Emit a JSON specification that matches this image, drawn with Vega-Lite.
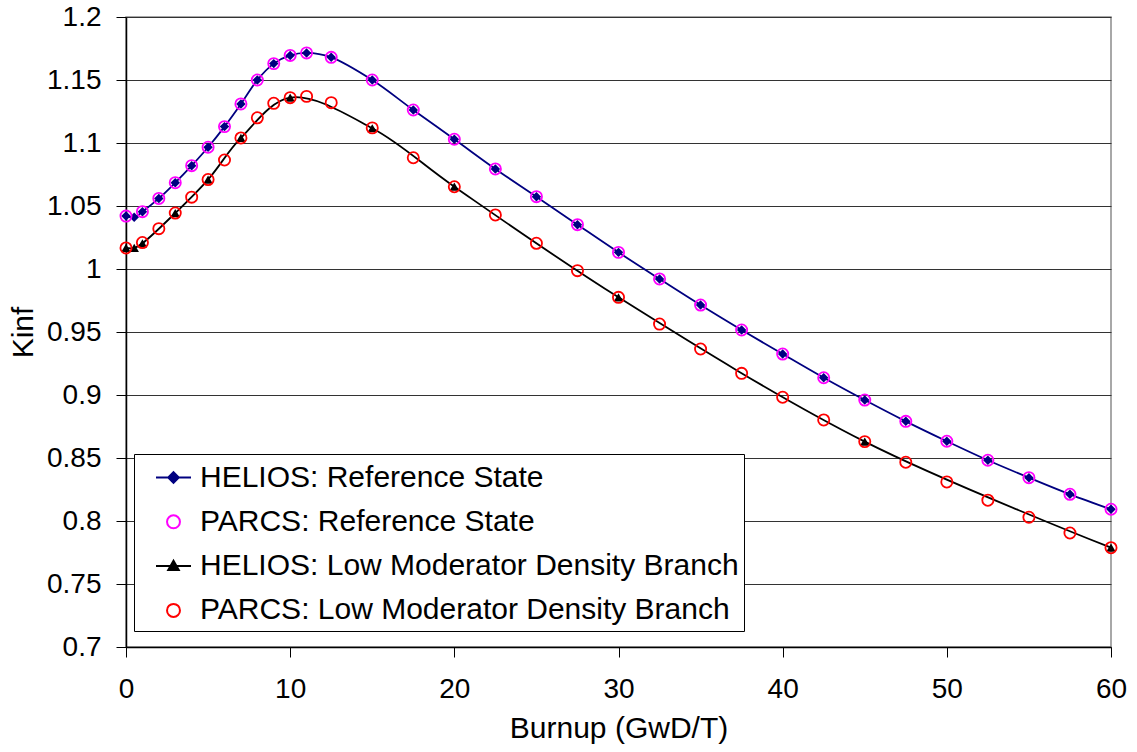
{
  "$schema": "https://vega.github.io/schema/vega-lite/v6.json",
  "width": 985,
  "height": 630,
  "autosize": {"type": "none"},
  "padding": {"left": 126, "top": 17, "right": 26, "bottom": 105},
  "background": "white",
  "config": {
    "view": {"stroke": "#8c8c8c", "strokeWidth": 1.5},
    "font": "Liberation Sans"
  },
  "data": {
    "values": [
      {"s": "HELIOS: Reference State", "x": 0, "y": 1.042},
      {"s": "HELIOS: Reference State", "x": 0.5, "y": 1.041},
      {"s": "HELIOS: Reference State", "x": 1, "y": 1.0455},
      {"s": "HELIOS: Reference State", "x": 2, "y": 1.056},
      {"s": "HELIOS: Reference State", "x": 3, "y": 1.0685},
      {"s": "HELIOS: Reference State", "x": 4, "y": 1.082},
      {"s": "HELIOS: Reference State", "x": 5, "y": 1.0966},
      {"s": "HELIOS: Reference State", "x": 6, "y": 1.113},
      {"s": "HELIOS: Reference State", "x": 7, "y": 1.131},
      {"s": "HELIOS: Reference State", "x": 8, "y": 1.15},
      {"s": "HELIOS: Reference State", "x": 9, "y": 1.163},
      {"s": "HELIOS: Reference State", "x": 10, "y": 1.1695},
      {"s": "HELIOS: Reference State", "x": 11, "y": 1.1715},
      {"s": "HELIOS: Reference State", "x": 12.5, "y": 1.168},
      {"s": "HELIOS: Reference State", "x": 15, "y": 1.15},
      {"s": "HELIOS: Reference State", "x": 17.5, "y": 1.1262},
      {"s": "HELIOS: Reference State", "x": 20, "y": 1.103},
      {"s": "HELIOS: Reference State", "x": 22.5, "y": 1.0794},
      {"s": "HELIOS: Reference State", "x": 25, "y": 1.0574},
      {"s": "HELIOS: Reference State", "x": 27.5, "y": 1.0352},
      {"s": "HELIOS: Reference State", "x": 30, "y": 1.0132},
      {"s": "HELIOS: Reference State", "x": 32.5, "y": 0.9921},
      {"s": "HELIOS: Reference State", "x": 35, "y": 0.9714},
      {"s": "HELIOS: Reference State", "x": 37.5, "y": 0.9516},
      {"s": "HELIOS: Reference State", "x": 40, "y": 0.9325},
      {"s": "HELIOS: Reference State", "x": 42.5, "y": 0.9137},
      {"s": "HELIOS: Reference State", "x": 45, "y": 0.896},
      {"s": "HELIOS: Reference State", "x": 47.5, "y": 0.8791},
      {"s": "HELIOS: Reference State", "x": 50, "y": 0.8633},
      {"s": "HELIOS: Reference State", "x": 52.5, "y": 0.8482},
      {"s": "HELIOS: Reference State", "x": 55, "y": 0.8344},
      {"s": "HELIOS: Reference State", "x": 57.5, "y": 0.8212},
      {"s": "HELIOS: Reference State", "x": 60, "y": 0.8093},
      {"s": "PARCS: Reference State", "x": 0, "y": 1.042},
      {"s": "PARCS: Reference State", "x": 1, "y": 1.0455},
      {"s": "PARCS: Reference State", "x": 2, "y": 1.056},
      {"s": "PARCS: Reference State", "x": 3, "y": 1.0685},
      {"s": "PARCS: Reference State", "x": 4, "y": 1.082},
      {"s": "PARCS: Reference State", "x": 5, "y": 1.0966},
      {"s": "PARCS: Reference State", "x": 6, "y": 1.113},
      {"s": "PARCS: Reference State", "x": 7, "y": 1.131},
      {"s": "PARCS: Reference State", "x": 8, "y": 1.15},
      {"s": "PARCS: Reference State", "x": 9, "y": 1.163},
      {"s": "PARCS: Reference State", "x": 10, "y": 1.1695},
      {"s": "PARCS: Reference State", "x": 11, "y": 1.1715},
      {"s": "PARCS: Reference State", "x": 12.5, "y": 1.168},
      {"s": "PARCS: Reference State", "x": 15, "y": 1.15},
      {"s": "PARCS: Reference State", "x": 17.5, "y": 1.1262},
      {"s": "PARCS: Reference State", "x": 20, "y": 1.103},
      {"s": "PARCS: Reference State", "x": 22.5, "y": 1.0794},
      {"s": "PARCS: Reference State", "x": 25, "y": 1.0574},
      {"s": "PARCS: Reference State", "x": 27.5, "y": 1.0352},
      {"s": "PARCS: Reference State", "x": 30, "y": 1.0132},
      {"s": "PARCS: Reference State", "x": 32.5, "y": 0.9921},
      {"s": "PARCS: Reference State", "x": 35, "y": 0.9714},
      {"s": "PARCS: Reference State", "x": 37.5, "y": 0.9516},
      {"s": "PARCS: Reference State", "x": 40, "y": 0.9325},
      {"s": "PARCS: Reference State", "x": 42.5, "y": 0.9137},
      {"s": "PARCS: Reference State", "x": 45, "y": 0.896},
      {"s": "PARCS: Reference State", "x": 47.5, "y": 0.8791},
      {"s": "PARCS: Reference State", "x": 50, "y": 0.8633},
      {"s": "PARCS: Reference State", "x": 52.5, "y": 0.8482},
      {"s": "PARCS: Reference State", "x": 55, "y": 0.8344},
      {"s": "PARCS: Reference State", "x": 57.5, "y": 0.8212},
      {"s": "PARCS: Reference State", "x": 60, "y": 0.8093},
      {"s": "HELIOS: Low Moderator Density Branch", "x": 0, "y": 1.0167},
      {"s": "HELIOS: Low Moderator Density Branch", "x": 0.5, "y": 1.0167},
      {"s": "HELIOS: Low Moderator Density Branch", "x": 1, "y": 1.0204},
      {"s": "HELIOS: Low Moderator Density Branch", "x": 3, "y": 1.0444},
      {"s": "HELIOS: Low Moderator Density Branch", "x": 5, "y": 1.071},
      {"s": "HELIOS: Low Moderator Density Branch", "x": 7, "y": 1.104},
      {"s": "HELIOS: Low Moderator Density Branch", "x": 10, "y": 1.136},
      {"s": "HELIOS: Low Moderator Density Branch", "x": 15, "y": 1.1117},
      {"s": "HELIOS: Low Moderator Density Branch", "x": 20, "y": 1.0653},
      {"s": "HELIOS: Low Moderator Density Branch", "x": 30, "y": 0.9775},
      {"s": "HELIOS: Low Moderator Density Branch", "x": 45, "y": 0.863},
      {"s": "HELIOS: Low Moderator Density Branch", "x": 60, "y": 0.7788},
      {"s": "PARCS: Low Moderator Density Branch", "x": 0, "y": 1.0167},
      {"s": "PARCS: Low Moderator Density Branch", "x": 1, "y": 1.021},
      {"s": "PARCS: Low Moderator Density Branch", "x": 2, "y": 1.032},
      {"s": "PARCS: Low Moderator Density Branch", "x": 3, "y": 1.0444},
      {"s": "PARCS: Low Moderator Density Branch", "x": 4, "y": 1.057},
      {"s": "PARCS: Low Moderator Density Branch", "x": 5, "y": 1.071},
      {"s": "PARCS: Low Moderator Density Branch", "x": 6, "y": 1.0865},
      {"s": "PARCS: Low Moderator Density Branch", "x": 7, "y": 1.104},
      {"s": "PARCS: Low Moderator Density Branch", "x": 8, "y": 1.12},
      {"s": "PARCS: Low Moderator Density Branch", "x": 9, "y": 1.1315},
      {"s": "PARCS: Low Moderator Density Branch", "x": 10, "y": 1.136},
      {"s": "PARCS: Low Moderator Density Branch", "x": 11, "y": 1.137},
      {"s": "PARCS: Low Moderator Density Branch", "x": 12.5, "y": 1.132},
      {"s": "PARCS: Low Moderator Density Branch", "x": 15, "y": 1.112},
      {"s": "PARCS: Low Moderator Density Branch", "x": 17.5, "y": 1.0883},
      {"s": "PARCS: Low Moderator Density Branch", "x": 20, "y": 1.0653},
      {"s": "PARCS: Low Moderator Density Branch", "x": 22.5, "y": 1.0429},
      {"s": "PARCS: Low Moderator Density Branch", "x": 25, "y": 1.0204},
      {"s": "PARCS: Low Moderator Density Branch", "x": 27.5, "y": 0.9987},
      {"s": "PARCS: Low Moderator Density Branch", "x": 30, "y": 0.9775},
      {"s": "PARCS: Low Moderator Density Branch", "x": 32.5, "y": 0.9563},
      {"s": "PARCS: Low Moderator Density Branch", "x": 35, "y": 0.9365},
      {"s": "PARCS: Low Moderator Density Branch", "x": 37.5, "y": 0.9172},
      {"s": "PARCS: Low Moderator Density Branch", "x": 40, "y": 0.8982},
      {"s": "PARCS: Low Moderator Density Branch", "x": 42.5, "y": 0.8802},
      {"s": "PARCS: Low Moderator Density Branch", "x": 45, "y": 0.863},
      {"s": "PARCS: Low Moderator Density Branch", "x": 47.5, "y": 0.8466},
      {"s": "PARCS: Low Moderator Density Branch", "x": 50, "y": 0.831},
      {"s": "PARCS: Low Moderator Density Branch", "x": 52.5, "y": 0.8165},
      {"s": "PARCS: Low Moderator Density Branch", "x": 55, "y": 0.803},
      {"s": "PARCS: Low Moderator Density Branch", "x": 57.5, "y": 0.7905},
      {"s": "PARCS: Low Moderator Density Branch", "x": 60, "y": 0.7788}
    ]
  },
  "encoding": {
    "x": {
      "field": "x", "type": "quantitative",
      "scale": {"domain": [0, 60], "nice": false, "zero": false},
      "axis": {
        "title": "Burnup (GwD/T)",
        "values": [0, 10, 20, 30, 40, 50, 60],
        "grid": false,
        "domainColor": "#000", "domainWidth": 1.5,
        "tickColor": "#000", "tickSize": 10, "tickWidth": 1,
        "labelFont": "Liberation Sans", "labelFontSize": 28, "labelColor": "#000",
        "labelPadding": 18, "labelFlush": false, "labelOverlap": false, "labelBound": false,
        "titleFont": "Liberation Sans", "titleFontSize": 30, "titleFontWeight": "normal",
        "titleColor": "#000", "titlePadding": 10
      }
    },
    "y": {
      "field": "y", "type": "quantitative",
      "scale": {"domain": [0.7, 1.2], "nice": false, "zero": false},
      "axis": {
        "title": "Kinf",
        "values": [0.7, 0.75, 0.8, 0.85, 0.9, 0.95, 1, 1.05, 1.1, 1.15, 1.2],
        "format": "~g",
        "grid": true, "gridColor": "#333", "gridOpacity": 1, "gridWidth": 1,
        "domainColor": "#000", "domainWidth": 1.5,
        "tickColor": "#000", "tickSize": 10, "tickWidth": 1,
        "labelFont": "Liberation Sans", "labelFontSize": 28, "labelColor": "#000",
        "labelPadding": 15, "labelFlush": false, "labelOverlap": false, "labelBound": false,
        "titleFont": "Liberation Sans", "titleFontSize": 30, "titleFontWeight": "normal",
        "titleColor": "#000", "titlePadding": 8
      }
    },
    "color": {
      "field": "s", "type": "nominal",
      "scale": {
        "domain": ["HELIOS: Reference State", "PARCS: Reference State", "HELIOS: Low Moderator Density Branch", "PARCS: Low Moderator Density Branch"],
        "range": ["#000080", "#FF00FF", "#000000", "#FF0000"]
      },
      "legend": {
        "orient": "none", "legendX": 8, "legendY": 437,
        "title": null,
        "labelFont": "Liberation Sans", "labelFontSize": 30, "labelColor": "#000",
        "labelLimit": 1000,
        "symbolSize": 1225, "symbolStrokeWidth": 2,
        "padding": 5, "symbolOffset": 16, "labelOffset": 8, "rowPadding": 10.3,
        "strokeColor": "#000", "fillColor": "#fff",
        "labelExpr": "datum.label + '\u00a0'",
        "encode": {
          "symbols": {
            "update": {
              "shape": {"signal": "datum.value === 'HELIOS: Reference State' ? 'M-1,0H1M0,-0.3L0.3,0L0,0.3L-0.3,0Z' : (datum.value === 'HELIOS: Low Moderator Density Branch' ? 'M-1,0H1M0,-0.3L0.3,0.22L-0.3,0.22Z' : 'M-0.37,0A0.37,0.37,0,1,1,0.37,0A0.37,0.37,0,1,1,-0.37,0ZM-0.37,0A0.37,0.37,0,1,0,0.37,0A0.37,0.37,0,1,0,-0.37,0Z')"},
              "fill": {"signal": "datum.value === 'HELIOS: Reference State' ? '#000080' : (datum.value === 'HELIOS: Low Moderator Density Branch' ? '#000000' : 'transparent')"},
              "fillOpacity": {"signal": "indexof(datum.value, 'HELIOS') === 0 ? 1 : 0"},
              "stroke": {"signal": "datum.value === 'HELIOS: Reference State' ? '#000080' : (datum.value === 'HELIOS: Low Moderator Density Branch' ? '#000000' : (datum.value === 'PARCS: Reference State' ? '#FF00FF' : '#FF0000'))"},
              "strokeWidth": {"value": 2},
              "opacity": {"value": 1}
            }
          }
        }
      }
    }
  },
  "layer": [
    {
      "transform": [{"filter": "indexof(datum.s, 'HELIOS') === 0"}],
      "mark": {"type": "line", "interpolate": "catmull-rom", "strokeWidth": 1.8}
    },
    {
      "transform": [{"filter": "indexof(datum.s, 'HELIOS') === 0"}],
      "mark": {"type": "point", "filled": true, "opacity": 1, "size": 90},
      "encoding": {
        "shape": {
          "field": "s", "type": "nominal",
          "scale": {"domain": ["HELIOS: Reference State", "HELIOS: Low Moderator Density Branch"], "range": ["diamond", "triangle-up"]},
          "legend": null
        }
      }
    },
    {
      "transform": [{"filter": "indexof(datum.s, 'PARCS') === 0"}],
      "mark": {"type": "point", "filled": false, "opacity": 1, "size": 125, "strokeWidth": 1.8}
    }
  ]
}
